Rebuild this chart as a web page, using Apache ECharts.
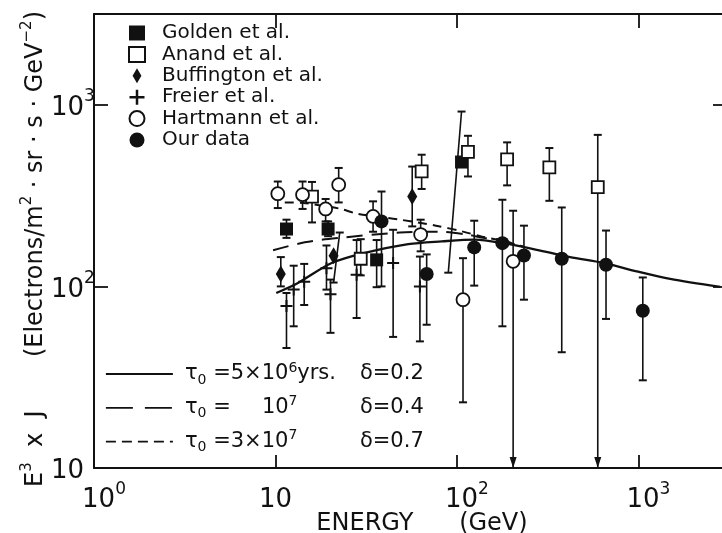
<!DOCTYPE html>
<html><head><meta charset="utf-8">
<script src="https://cdn.jsdelivr.net/npm/echarts@6/dist/echarts.min.js"></script>
<style>html,body{margin:0;padding:0;background:#fff}#c{width:722px;height:533px}</style>
</head><body><div id="c"></div>
<script>
// ---------------- data ----------------
const goldenE  = [11.5, 19.5, 36.1, 106];
const goldenJ  = [207, 207, 140, 484];
const goldenLo = [185, 189, 99, 119];
const goldenHi = [233, 228, 180, 918];
const goldenLoE = [null, null, null, 89.6];

const anandE  = [15.9, 29.5, 63.9, 115, 189, 323, 597];
const anandJ  = [312, 142, 430, 551, 501, 452, 352];
const anandLo = [225, 115, 344, 403, 360, 296, 10];
const anandHi = [376, 182, 531, 675, 621, 578, 683];
const anandArrow = [0, 0, 0, 0, 0, 0, 1];

const buffE  = [10.7, 20.9, 56.7];
const buffJ  = [117, 147.5, 313];
const buffLo = [100, 105, 214];
const buffHi = [145, 198, 457];
const buffHiE = [null, 22.6, null];

const freierE  = [11.5, 12.6, 14.4, 19.1, 20.1, 28, 44.5, 62.5];
const freierJ  = [78, 96, 106, 126, 90.6, 116, 134.5, 100];
const freierLo = [45.8, 60.3, 79, 96, 55.5, 67, 52.7, 49.8];
const freierHi = [92, 130, 133, 168, 109, 180, 205, 146];

const hartE  = [10.3, 14.1, 18.9, 22.3, 34.5, 63.1, 108, 204];
const hartJ  = [324, 320, 267, 363, 243, 193, 84.5, 137.5];
const hartLo = [270, 267, 228, 290, 200, 156, 23, 10];
const hartHi = [378, 378, 303, 449, 294, 233, 143, 261];
const hartArrow = [0, 0, 0, 0, 0, 0, 0, 1];

const ourE  = [38.4, 68.1, 124.5, 178, 234, 378, 663, 1057];
const ourJ  = [228, 117, 164, 173, 148, 142, 131.5, 73.5];
const ourLo = [100, 61.5, 101, 60.3, 84.5, 43.4, 66.2, 30.4];
const ourHi = [333, 150, 230, 300, 216, 272, 203, 112];

// model curves
const solidE = [10.1, 13.3, 20.4, 31.1, 53.9, 82.4, 125.7, 180, 275, 420, 641, 979, 1496, 2823];
const solidJ = [92, 104.5, 134.5, 153, 171, 177, 181, 173, 159, 145, 134.6, 121, 110, 99.3];
const longE  = [9.7, 14.5, 22.6, 48.5, 80.6, 113.5, 139, 172.6, 230];
const longJ  = [158, 175, 185, 198, 200, 193, 185, 181, 166];
const shortE = [11.25, 14.2, 22.6, 28.4, 47.3, 76.6, 106.6, 137.4, 172.6, 230];
const shortJ = [290, 288, 268, 251, 234, 216, 201, 188, 179, 166];

// axes
const xMin = 1, xMax = 3000, yMin = 10, yMax = 3162.28;

// legend texts
const markerNames = ['Golden et al.', 'Anand et al.', 'Buffington et al.', 'Freier et al.', 'Hartmann et al.', 'Our data'];
const curveNames = ['c1', 'c2', 'c3'];

// ---------------- chart ----------------
const FONT = '"DejaVu Sans", sans-serif';
const INK = '#111';
const zip = (a, b) => a.map((v, i) => [v, b[i]]);

function errItems(E, lo, hi, arrow, loE, hiE) {
  return E.map((e, i) => [e, lo[i], hi[i], arrow ? arrow[i] : 0,
    (loE && loE[i] != null) ? loE[i] : e, (hiE && hiE[i] != null) ? hiE[i] : e]);
}
const errData = [].concat(
  errItems(goldenE, goldenLo, goldenHi, null, goldenLoE, null),
  errItems(anandE, anandLo, anandHi, anandArrow),
  errItems(buffE, buffLo, buffHi, null, null, buffHiE),
  errItems(freierE, freierLo, freierHi),
  errItems(hartE, hartLo, hartHi, hartArrow),
  errItems(ourE, ourLo, ourHi)
);

function renderErr(params, api) {
  const lo = api.value(1), hi = api.value(2), arrow = api.value(3);
  const xl = api.value(4), xh = api.value(5);
  const pHi = api.coord([xh, hi]);
  const pLo = api.coord([xl, lo]);
  const kids = [
    {type: 'line', shape: {x1: pLo[0], y1: pLo[1], x2: pHi[0], y2: pHi[1]}, style: {stroke: INK, lineWidth: 1.6}},
    {type: 'line', shape: {x1: pHi[0] - 4, y1: pHi[1], x2: pHi[0] + 4, y2: pHi[1]}, style: {stroke: INK, lineWidth: 2}}
  ];
  if (arrow) {
    kids.push({type: 'polygon', shape: {points: [[pLo[0] - 3.5, pLo[1] - 11], [pLo[0] + 3.5, pLo[1] - 11], [pLo[0], pLo[1]]]}, style: {fill: INK}});
  } else {
    kids.push({type: 'line', shape: {x1: pLo[0] - 4, y1: pLo[1], x2: pLo[0] + 4, y2: pLo[1]}, style: {stroke: INK, lineWidth: 2}});
  }
  return {type: 'group', children: kids};
}

const PLUS = 'path://M5,0L7,0L7,5L12,5L12,7L7,7L7,12L5,12L5,7L0,7L0,5L5,5Z';
const DIAMOND = 'path://M5,0L10,8.5L5,17L0,8.5Z';

function isDecade(v) { const l = Math.log10(v); return Math.abs(l - Math.round(l)) < 1e-6; }
function decLabel(v, withPad) {
  if (!isDecade(v)) return '';
  const e = Math.round(Math.log10(v));
  if (e === 1) return '{b|10}';
  return (withPad ? '{bp|10}' : '{b|10}') + '{s|' + e + '}';
}

// legend 2 text builder (τ part + δ column)
const mctx = document.createElement('canvas').getContext('2d');
function tw(str, size) { mctx.font = size + 'px "DejaVu Sans"'; return mctx.measureText(str).width; }
const RS = {t: 21, sub: 14, sup: 14};
const rich2 = {
  t: {fontSize: 21, fontFamily: FONT, color: INK, lineHeight: 26},
  sub: {fontSize: 14, fontFamily: FONT, color: INK, lineHeight: 14, verticalAlign: 'bottom'},
  sup: {fontSize: 14, fontFamily: FONT, color: INK, lineHeight: 14, verticalAlign: 'top'}
};
let padId = 0;
function padTok(w) { const k = 'w' + (padId++); rich2[k] = {width: Math.max(1, w), fontSize: 21, lineHeight: 26}; return '{' + k + '| }'; }
const curveRows = {
  c1: {left: [['t', 'τ'], ['sub', '0'], ['t', ' =5×10'], ['sup', '6'], ['t', 'yrs.']], delta: 'δ=0.2'},
  c2: {left: [['t', 'τ'], ['sub', '0'], ['t', ' ='], ['gap', 77], ['t', '10'], ['sup', '7']], delta: 'δ=0.4'},
  c3: {left: [['t', 'τ'], ['sub', '0'], ['t', ' =3×10'], ['sup', '7']], delta: 'δ=0.7'}
};
const curveLabel = {};
for (const k of curveNames) {
  const row = curveRows[k];
  let s = padTok(7), x = 0;
  for (const [st, v] of row.left) {
    if (st === 'gap') { s += padTok(v - x); x = v; continue; }
    s += '{' + st + '|' + v + '}'; x += tw(v, RS[st]);
  }
  s += padTok(175 - x) + '{t|' + row.delta + '}';
  curveLabel[k] = s;
}

const labRich = {
  b: {fontSize: 26, fontFamily: FONT, color: INK, padding: [6, 0, 0, 0]},
  bp: {fontSize: 26, fontFamily: FONT, color: INK, padding: [6, 0, 0, 20]},
  s: {fontSize: 17, fontFamily: FONT, color: INK, verticalAlign: 'top'}
};
const frame = {lineStyle: {color: INK, width: 2}};
const tick = (len) => ({show: true, inside: true, length: len, lineStyle: {color: INK, width: 1.8}});

const option = {
  animation: false,
  backgroundColor: '#fff',
  grid: {left: 94, right: -3, top: 14, bottom: 65, outerBoundsMode: 'none', containLabel: false},
  xAxis: [
    {type: 'log', logBase: 10, min: xMin, max: xMax, interval: 1, position: 'bottom',
     axisLine: frame, axisTick: tick(13), splitLine: {show: false}, minorTick: {show: false},
     axisLabel: {margin: 13, formatter: v => decLabel(v, true), rich: labRich, hideOverlap: false},
     name: 'ENERGY      (GeV)', nameLocation: 'middle', nameGap: 44, nameMoveOverlap: false,
     nameTextStyle: {fontSize: 24, fontFamily: FONT, color: INK, padding: [0, 0, 0, 25]}},
    {type: 'log', logBase: 10, min: xMin, max: xMax, interval: 1, position: 'top',
     axisLine: frame, axisTick: tick(14), axisLabel: {show: false}, splitLine: {show: false}}
  ],
  yAxis: [
    {type: 'log', logBase: 10, min: yMin, max: yMax, interval: 1, position: 'left',
     axisLine: frame, axisTick: tick(14), splitLine: {show: false},
     axisLabel: {margin: 43, align: 'left', formatter: v => decLabel(v, false),
       rich: {b: {fontSize: 26, fontFamily: FONT, color: INK, padding: [7, 0, 0, 0]},
              s: {fontSize: 17, fontFamily: FONT, color: INK, verticalAlign: 'top'}}},
     name: '{t|E}{sp|3}{t|  x  J       (Electrons/m}{sp|2}{t| · sr · s · GeV}{sp|−2}{t|)}',
     nameLocation: 'middle', nameGap: 46, nameMoveOverlap: false,
     nameTextStyle: {fontSize: 24, fontFamily: FONT, color: INK, padding: [0, 16, 0, 0],
       rich: {t: {fontSize: 24, fontFamily: FONT, color: INK, lineHeight: 28, padding: [4, 0, 0, 0]},
              sp: {fontSize: 15, fontFamily: FONT, color: INK, verticalAlign: 'top'}}}},
    {type: 'log', logBase: 10, min: yMin, max: yMax, interval: 1, position: 'right',
     axisLine: frame, axisTick: tick(12), axisLabel: {show: false}, splitLine: {show: false}}
  ],
  legend: [
    {data: markerNames, orient: 'vertical', left: 128, top: 23, padding: 0,
     itemWidth: 16, itemHeight: 15, itemGap: 1.4, selectedMode: false,
     formatter: n => '{p| }{n|' + n + '}',
     textStyle: {lineHeight: 16, rich: {p: {width: 12, fontSize: 20, lineHeight: 16}, n: {fontSize: 20, fontFamily: FONT, color: INK, lineHeight: 16}}}},
    {data: [{name: 'c1'}, {name: 'c2', lineStyle: {type: [27, 12]}}, {name: 'c3', lineStyle: {type: [10, 6]}}],
     orient: 'vertical', left: 105, top: 361, padding: 0,
     itemWidth: 67, itemHeight: 14, itemGap: 7.8, selectedMode: false,
     itemStyle: {opacity: 0}, lineStyle: {width: 1.8, opacity: 1},
     formatter: n => curveLabel[n], textStyle: {rich: rich2}}
  ],
  series: [
    {type: 'line', name: 'c1', data: zip(solidE, solidJ), smooth: 0.3, symbol: 'none', z: 2,
     lineStyle: {color: INK, width: 2.3, type: 'solid'}, itemStyle: {color: INK}},
    {type: 'line', name: 'c2', data: zip(longE, longJ), smooth: 0.3, symbol: 'none', z: 2,
     lineStyle: {color: INK, width: 2, type: [16, 9]}, itemStyle: {color: INK}},
    {type: 'line', name: 'c3', data: zip(shortE, shortJ), smooth: 0.3, symbol: 'none', z: 2,
     lineStyle: {color: INK, width: 2, type: [9, 6]}, itemStyle: {color: INK}},
    {type: 'custom', name: 'errors', renderItem: renderErr, data: errData, z: 3, silent: true,
     encode: {x: [0, 4, 5], y: [1, 2]}},
    {type: 'scatter', name: 'Golden et al.', data: zip(goldenE, goldenJ), symbol: 'rect', symbolSize: 13, z: 5,
     itemStyle: {color: INK, opacity: 1}},
    {type: 'scatter', name: 'Anand et al.', data: zip(anandE, anandJ), symbol: 'rect', symbolSize: 12, z: 5,
     itemStyle: {color: '#fff', borderColor: INK, borderWidth: 1.8, opacity: 1}},
    {type: 'scatter', name: 'Buffington et al.', data: zip(buffE, buffJ), symbol: DIAMOND, symbolSize: [10, 17], z: 5,
     itemStyle: {color: INK, opacity: 1}},
    {type: 'scatter', name: 'Freier et al.', data: zip(freierE, freierJ), symbol: PLUS, symbolSize: 12, z: 5,
     itemStyle: {color: INK, opacity: 1}},
    {type: 'scatter', name: 'Hartmann et al.', data: zip(hartE, hartJ), symbol: 'circle', symbolSize: 13, z: 5,
     itemStyle: {color: '#fff', borderColor: INK, borderWidth: 1.8, opacity: 1}},
    {type: 'scatter', name: 'Our data', data: zip(ourE, ourJ), symbol: 'circle', symbolSize: 14, z: 5,
     itemStyle: {color: INK, opacity: 1}}
  ]
};
const chart = echarts.init(document.getElementById('c'));
chart.setOption(option);
</script>
</body></html>
